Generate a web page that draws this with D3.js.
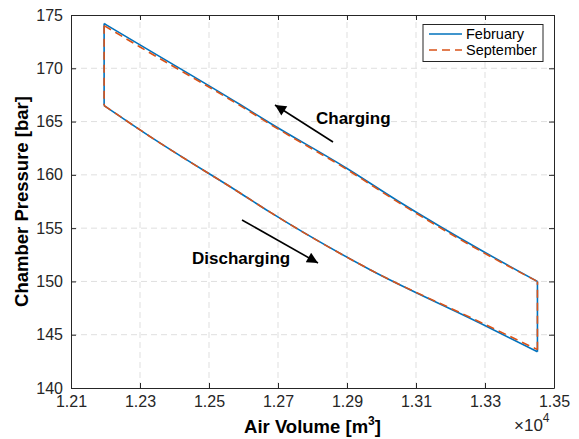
<!DOCTYPE html>
<html>
<head>
<meta charset="utf-8">
<script src="https://cdn.jsdelivr.net/npm/d3@7"></script>
<style>
  body { margin: 0; background: #fff; }
  svg { display: block; font-family: "Liberation Sans", Arial, Helvetica, sans-serif; }
</style>
</head>
<body>
<div id="chart"></div>
<script>
// --- Data ---
const xTicks = [12100, 12300, 12500, 12700, 12900, 13100, 13300, 13500];
const yTicks = [140, 145, 150, 155, 160, 165, 170, 175];

// February cycle: charging branch (right -> left) and discharging branch (left -> right)
const febChargeVolume      = [13452, 13290, 13050, 12900, 12680, 12590, 12300, 12196];
const febChargePressure    = [150.0, 152.9, 157.5, 160.6, 164.8, 166.6, 172.2, 174.2];
const febDischargeVolume   = [12196, 12343, 12590, 12677, 12967, 13285, 13452];
const febDischargePressure = [166.5, 163.3, 158.3, 156.5, 151.1, 146.1, 143.4];

const sepChargeVolume      = [13452, 13290, 13050, 12900, 12680, 12590, 12300, 12196];
const sepChargePressure    = [150.0, 152.8, 157.4, 160.5, 164.7, 166.5, 172.0, 174.0];
const sepDischargeVolume   = [12196, 12343, 12590, 12677, 12967, 13285, 13452];
const sepDischargePressure = [166.5, 163.3, 158.3, 156.5, 151.1, 146.2, 143.6];

const seriesNames  = ["February", "September"];
const seriesColors = ["#0072BD", "#D95319"];

// --- Layout ---
const W = 579, H = 439;
const m = { left: 71, right: 25, top: 15, bottom: 51 };

const svg = d3.select("#chart").append("svg")
  .attr("width", W)
  .attr("height", H);

const x = d3.scaleLinear().domain([12100, 13500]).range([m.left, W - m.right]);
const y = d3.scaleLinear().domain([140, 175]).range([H - m.bottom, m.top]);

const axisColor = "#262626";
const gridColor = "#dfdfdf";

// grid
svg.append("g").selectAll("line")
  .data(xTicks.slice(1, -1))
  .join("line")
  .attr("x1", d => x(d)).attr("x2", d => x(d))
  .attr("y1", y(140)).attr("y2", y(175))
  .attr("stroke", gridColor).attr("stroke-width", 1)
  .attr("stroke-dasharray", "6,4");

svg.append("g").selectAll("line")
  .data(yTicks.slice(1, -1))
  .join("line")
  .attr("x1", x(12100)).attr("x2", x(13500))
  .attr("y1", d => y(d)).attr("y2", d => y(d))
  .attr("stroke", gridColor).attr("stroke-width", 1)
  .attr("stroke-dasharray", "6,4");

// series: each branch smoothed, joined by the vertical switching segments
const branch = d3.line().x(d => x(d[0])).y(d => y(d[1])).curve(d3.curveMonotoneX);
function cyclePath(cv, cp, dv, dp) {
  const charge = cv.map((v, i) => [v, cp[i]]).sort((a, b) => a[0] - b[0]);
  const discharge = dv.map((v, i) => [v, dp[i]]).sort((a, b) => a[0] - b[0]);
  const c = branch(charge);       // left-top -> right-top
  const d = branch(discharge);    // left-bottom -> right-bottom
  const lt = charge[0], rt = charge[charge.length - 1];
  const lb = discharge[0], rb = discharge[discharge.length - 1];
  return c + `M${x(lt[0])},${y(lt[1])}L${x(lb[0])},${y(lb[1])}` +
    d + `M${x(rb[0])},${y(rb[1])}L${x(rt[0])},${y(rt[1])}`;
}

svg.append("path")
  .attr("d", cyclePath(febChargeVolume, febChargePressure, febDischargeVolume, febDischargePressure))
  .attr("fill", "none")
  .attr("stroke", seriesColors[0]).attr("stroke-width", 1.6);

svg.append("path")
  .attr("d", cyclePath(sepChargeVolume, sepChargePressure, sepDischargeVolume, sepDischargePressure))
  .attr("fill", "none")
  .attr("stroke", seriesColors[1]).attr("stroke-width", 1.6)
  .attr("stroke-dasharray", "8,5");

// axes (box with inward ticks on all sides)
const tickLen = 5;
const fmtX = d => (d / 1e4).toFixed(2);
const tickFont = g => g.selectAll("text")
  .attr("font-size", 16).attr("fill", axisColor)
  .attr("font-family", "Liberation Sans, Arial, sans-serif");

svg.append("g")
  .attr("transform", `translate(0,${y(140)})`)
  .call(d3.axisBottom(x).tickValues(xTicks).tickFormat(fmtX).tickSizeInner(-tickLen).tickSizeOuter(0).tickPadding(tickLen + 3))
  .call(tickFont);

svg.append("g")
  .attr("transform", `translate(0,${y(175)})`)
  .call(d3.axisTop(x).tickValues(xTicks).tickFormat("").tickSizeInner(-tickLen).tickSizeOuter(0));

svg.append("g")
  .attr("transform", `translate(${x(12100)},0)`)
  .call(d3.axisLeft(y).tickValues(yTicks).tickFormat(d3.format("d")).tickSizeInner(-tickLen).tickSizeOuter(0).tickPadding(tickLen + 3))
  .call(tickFont);

svg.append("g")
  .attr("transform", `translate(${x(13500)},0)`)
  .call(d3.axisRight(y).tickValues(yTicks).tickFormat("").tickSizeInner(-tickLen).tickSizeOuter(0));

svg.selectAll(".domain").attr("stroke", axisColor);
svg.selectAll(".tick line").attr("stroke", axisColor);

// exponent label
const expo = svg.append("text")
  .attr("x", 514).attr("y", 431)
  .attr("font-size", 17).attr("fill", axisColor);
expo.append("tspan").text("×10");
expo.append("tspan").attr("dy", -9).attr("font-size", 12).text("4");

// axis titles
const xt = svg.append("text")
  .attr("x", (x(12100) + x(13500)) / 2).attr("y", 433)
  .attr("text-anchor", "middle")
  .attr("font-size", 18.5).attr("font-weight", "bold").attr("fill", "#000");
xt.append("tspan").text("Air Volume [m");
xt.append("tspan").attr("dy", -8).attr("font-size", 12).text("3");
xt.append("tspan").attr("dy", 8).text("]");

svg.append("text")
  .attr("transform", `translate(28,${(y(140) + y(175)) / 2}) rotate(-90)`)
  .attr("text-anchor", "middle")
  .attr("font-size", 18.5).attr("font-weight", "bold").attr("fill", "#000")
  .text("Chamber Pressure [bar]");

// annotations with arrows
svg.append("defs").append("marker")
  .attr("id", "ah")
  .attr("viewBox", "0 0 10 10")
  .attr("refX", 10).attr("refY", 5)
  .attr("markerWidth", 14).attr("markerHeight", 11)
  .attr("markerUnits", "userSpaceOnUse")
  .attr("orient", "auto")
  .append("path").attr("d", "M0,0 L10,5 L0,10 Z").attr("fill", "#000");

svg.append("line")
  .attr("x1", 333).attr("y1", 142).attr("x2", 275).attr("y2", 105)
  .attr("stroke", "#000").attr("stroke-width", 1.6)
  .attr("marker-end", "url(#ah)");

svg.append("text")
  .attr("x", 316).attr("y", 124)
  .attr("font-size", 17).attr("font-weight", "bold")
  .text("Charging");

svg.append("line")
  .attr("x1", 242).attr("y1", 220).attr("x2", 318).attr("y2", 263)
  .attr("stroke", "#000").attr("stroke-width", 1.6)
  .attr("marker-end", "url(#ah)");

svg.append("text")
  .attr("x", 192).attr("y", 264)
  .attr("font-size", 17).attr("font-weight", "bold")
  .text("Discharging");

// legend
const lg = svg.append("g");
lg.append("rect")
  .attr("x", 423).attr("y", 24.5).attr("width", 120).attr("height", 37)
  .attr("fill", "#fff").attr("stroke", axisColor).attr("stroke-width", 1);

seriesNames.forEach((name, i) => {
  const ly = 34 + i * 16;
  lg.append("line")
    .attr("x1", 429).attr("x2", 462).attr("y1", ly).attr("y2", ly)
    .attr("stroke", seriesColors[i]).attr("stroke-width", 1.6)
    .attr("stroke-dasharray", i === 1 ? "8,5" : null);
  lg.append("text")
    .attr("x", 466).attr("y", ly + 5)
    .attr("font-size", 14.5).attr("fill", "#000")
    .text(name);
});
</script>
</body>
</html>
